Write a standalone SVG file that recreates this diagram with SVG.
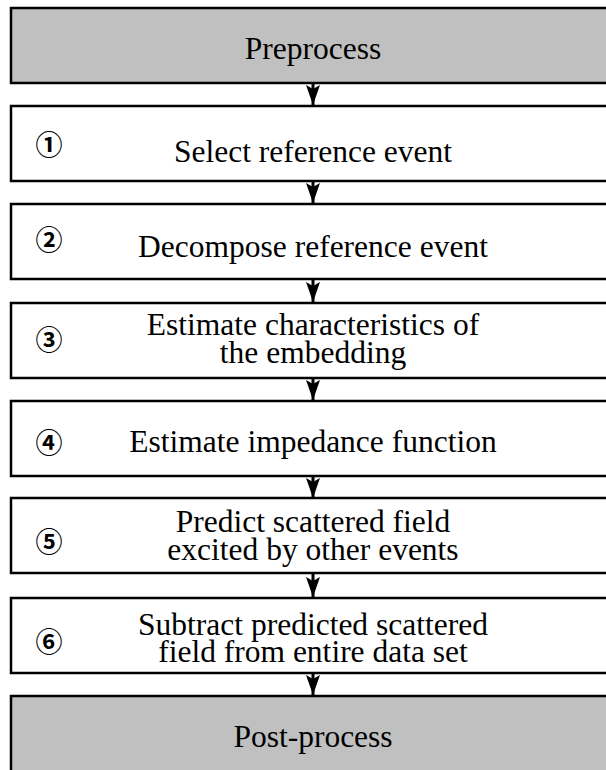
<svg xmlns="http://www.w3.org/2000/svg" width="606" height="770" viewBox="0 0 606 770">
<style>
.box{stroke:#000;stroke-width:2.5;fill:#fff}
.gray{fill:#c0c0c0}
.t{font-family:"Liberation Serif","Times New Roman",serif;font-size:31.5px;fill:#000;text-anchor:middle}
.n{font-family:"Noto Sans CJK JP","DejaVu Sans",sans-serif;font-size:27px;font-weight:700;fill:#000;text-anchor:middle}
.c{stroke:#000;stroke-width:3;fill:none}
</style>
<defs>
<marker id="ah" markerUnits="userSpaceOnUse" viewBox="0 0 20 14" refX="20" refY="7" markerWidth="20" markerHeight="14" orient="auto">
<path d="M0,0 L20,7 L0,14 L4,7 Z" fill="#000"/>
</marker>
</defs>
<g id="connectors">
<line class="c" x1="313" y1="83" x2="313" y2="105" marker-end="url(#ah)"/>
<line class="c" x1="313" y1="181" x2="313" y2="203" marker-end="url(#ah)"/>
<line class="c" x1="313" y1="279" x2="313" y2="302" marker-end="url(#ah)"/>
<line class="c" x1="313" y1="378" x2="313" y2="400" marker-end="url(#ah)"/>
<line class="c" x1="313" y1="476" x2="313" y2="498" marker-end="url(#ah)"/>
<line class="c" x1="313" y1="573" x2="313" y2="597" marker-end="url(#ah)"/>
<line class="c" x1="313" y1="673" x2="313" y2="695" marker-end="url(#ah)"/>
</g>
<g id="preprocess">
<rect class="box gray" x="11" y="8" width="605" height="75"/>
<text class="t" x="313" y="59">Preprocess</text>
</g>
<g id="step1">
<rect class="box" x="11" y="106" width="605" height="75"/>
<text class="n" x="49" y="155">①</text>
<text class="t" x="313" y="162">Select reference event</text>
</g>
<g id="step2">
<rect class="box" x="11" y="204" width="605" height="75"/>
<text class="n" x="49" y="250">②</text>
<text class="t" x="313" y="257">Decompose reference event</text>
</g>
<g id="step3">
<rect class="box" x="11" y="303" width="605" height="75"/>
<text class="n" x="49" y="350">③</text>
<text class="t" x="313" y="335">Estimate characteristics of</text>
<text class="t" x="313" y="363">the embedding</text>
</g>
<g id="step4">
<rect class="box" x="11" y="401" width="605" height="75"/>
<text class="n" x="49" y="453">④</text>
<text class="t" x="313" y="452">Estimate impedance function</text>
</g>
<g id="step5">
<rect class="box" x="11" y="498" width="605" height="75"/>
<text class="n" x="49" y="552">⑤</text>
<text class="t" x="313" y="532">Predict scattered field</text>
<text class="t" x="313" y="560">excited by other events</text>
</g>
<g id="step6">
<rect class="box" x="11" y="598" width="605" height="75"/>
<text class="n" x="49" y="652">⑥</text>
<text class="t" x="313" y="635">Subtract predicted scattered</text>
<text class="t" x="313" y="662">field from entire data set</text>
</g>
<g id="postprocess">
<rect class="box gray" x="11" y="696" width="605" height="80"/>
<text class="t" x="313" y="747">Post-process</text>
</g>
</svg>
